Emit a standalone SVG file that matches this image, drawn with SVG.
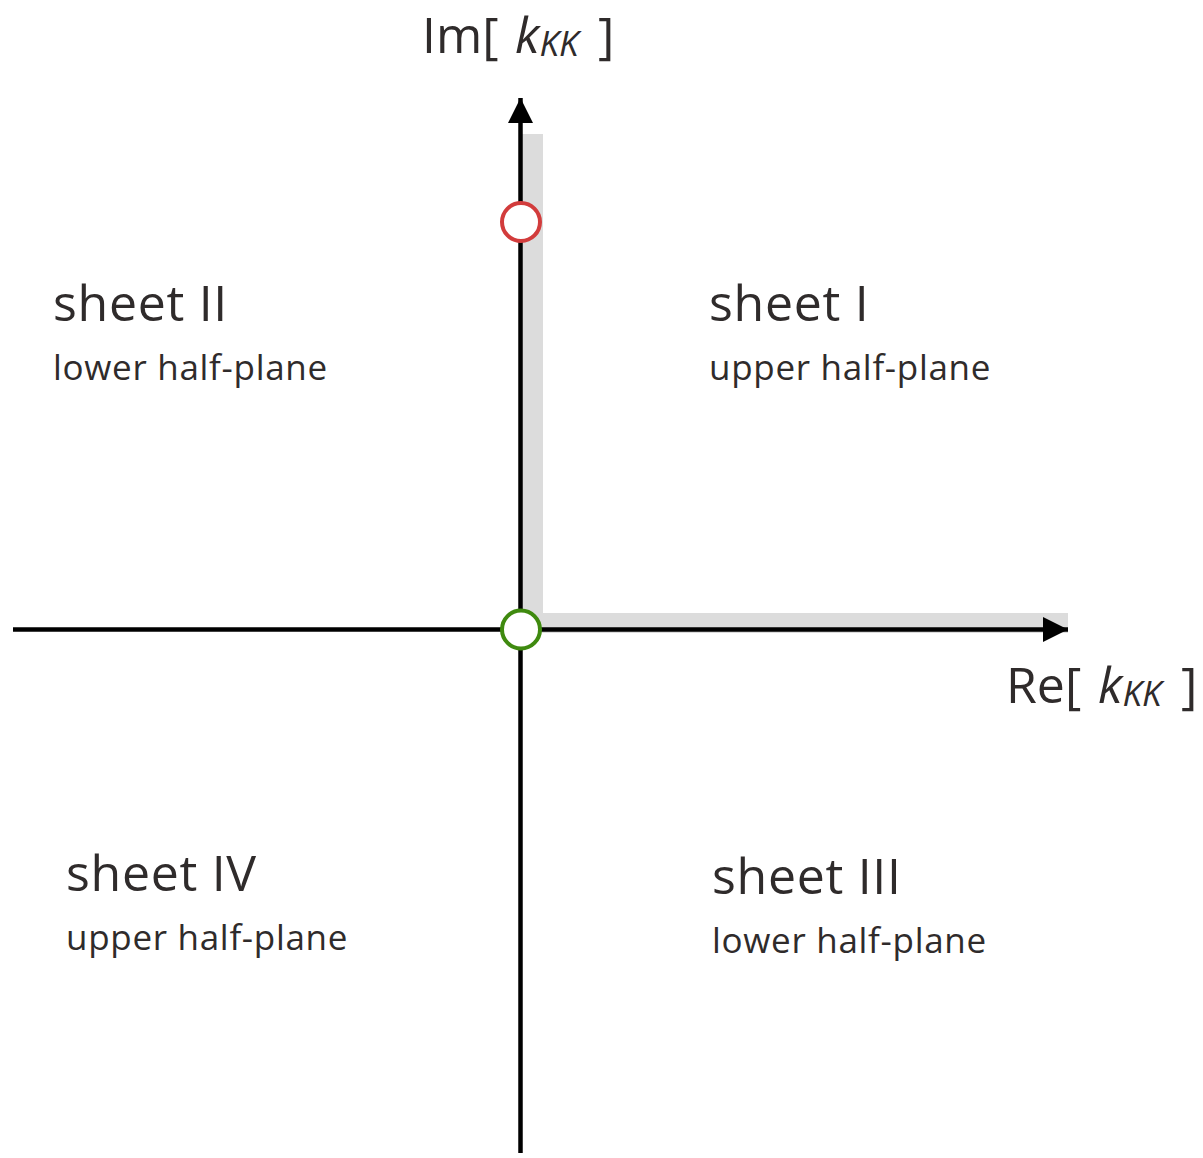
<svg xmlns="http://www.w3.org/2000/svg" width="1203" height="1158" viewBox="0 0 1203 1158">
<style>
.t{font-family:"Open Sans","DejaVu Sans",sans-serif;fill:#2f2b2b}
.big{font-size:50px;letter-spacing:0.7px}
.small{font-size:35px;letter-spacing:0.7px}
.ax{font-size:50px}
.sub{font-size:35px}
.axis{stroke:#000;stroke-width:4.5;fill:none}
.band{fill:#dcdcdc}
</style>
<defs>
<marker id="arr" markerWidth="25" markerHeight="25" refX="25" refY="12.5" orient="auto" markerUnits="userSpaceOnUse">
<path d="M0,0 L25,12.5 L0,25 Z" fill="#000"/>
</marker>
</defs>
<g id="cut">
<rect class="band" x="521" y="134" width="22" height="499"/>
<rect class="band" x="521" y="613" width="547" height="20"/>
</g>
<g id="connectors">
<line class="axis" x1="13" y1="629.5" x2="1068" y2="629.5" marker-end="url(#arr)"/>
<line class="axis" x1="520.5" y1="1153" x2="520.5" y2="98" marker-end="url(#arr)"/>
</g>
<g id="pole-red"><circle cx="521" cy="222" r="19" fill="#fff" stroke="#d23c3c" stroke-width="4"/></g>
<g id="pole-green"><circle cx="521" cy="629.5" r="19" fill="#fff" stroke="#3f8a0f" stroke-width="4"/></g>
<g id="label-im"><text class="t ax" x="422" y="53">Im[<tspan x="515" font-style="italic">k</tspan><tspan class="sub" font-style="italic" dy="3">KK</tspan><tspan x="598" dy="-3">]</tspan></text></g>
<g id="label-re"><text class="t ax" x="1006" y="703">Re[<tspan x="1098" font-style="italic">k</tspan><tspan class="sub" font-style="italic" dy="3">KK</tspan><tspan x="1181" dy="-3">]</tspan></text></g>
<g id="sheet1"><text class="t big" x="709" y="321">sheet I</text><text class="t small" x="709" y="380">upper half-plane</text></g>
<g id="sheet2"><text class="t big" x="53" y="321">sheet II</text><text class="t small" x="53" y="380">lower half-plane</text></g>
<g id="sheet4"><text class="t big" x="66" y="891">sheet IV</text><text class="t small" x="66" y="950">upper half-plane</text></g>
<g id="sheet3"><text class="t big" x="712" y="894">sheet III</text><text class="t small" x="712" y="953">lower half-plane</text></g>
</svg>
